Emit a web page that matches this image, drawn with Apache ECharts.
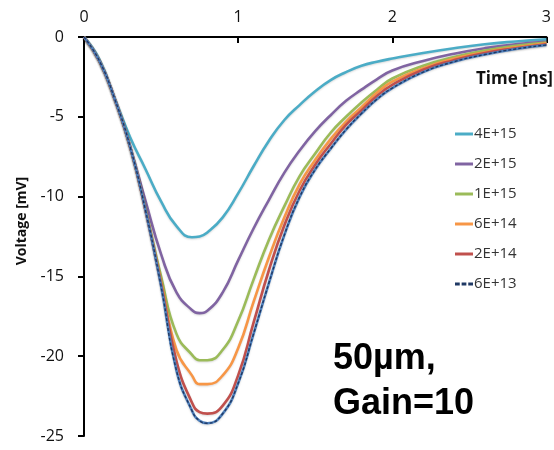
<!DOCTYPE html>
<html><head><meta charset="utf-8">
<script src="https://cdn.jsdelivr.net/npm/echarts@6/dist/echarts.min.js"></script>
<style>html,body{margin:0;padding:0;background:#fff}#c{width:554px;height:450px}</style>
</head><body><div id="c"></div>
<script>
const times = [0,0.1,0.2,0.3,0.4,0.5,0.6,0.7,0.75,0.8,0.9,1.0,1.1,1.2,1.3,1.4,1.5,1.6,1.7,1.8,1.9,2.0,2.2,2.4,2.6,2.8,3.0];
const names = ['4E+15','2E+15','1E+15','6E+14','2E+14','6E+13'];
const v4E15 = [0,-1.4,-3.85,-6.3,-8.3,-10.3,-11.85,-12.55,-12.5,-12.25,-11.3,-9.8,-8.1,-6.5,-5.2,-4.25,-3.4,-2.7,-2.2,-1.8,-1.55,-1.35,-1.0,-0.7,-0.45,-0.28,-0.15];
const v2E15 = [0,-1.5,-3.9,-6.9,-10.3,-13.6,-16.0,-17.1,-17.3,-17.15,-16.0,-14.0,-12.0,-10.2,-8.5,-7.1,-5.9,-4.9,-4.0,-3.3,-2.65,-2.1,-1.5,-1.05,-0.7,-0.45,-0.3];
const v1E15 = [0,-1.5,-3.9,-6.9,-10.8,-15.0,-18.6,-19.9,-20.25,-20.25,-19.6,-17.8,-15.2,-12.7,-10.6,-8.7,-7.3,-6.0,-5.0,-4.1,-3.3,-2.6,-1.8,-1.25,-0.85,-0.55,-0.35];
const v6E14 = [0,-1.5,-3.9,-6.9,-10.9,-15.3,-19.6,-21.2,-21.75,-21.75,-21.2,-19.5,-16.6,-13.8,-11.3,-9.2,-7.7,-6.4,-5.3,-4.4,-3.5,-2.8,-1.95,-1.35,-0.95,-0.65,-0.4];
const v2E14 = [0,-1.5,-3.9,-6.9,-10.9,-15.5,-20.3,-22.9,-23.5,-23.6,-23.1,-21.2,-17.9,-14.6,-11.8,-9.6,-8.0,-6.7,-5.5,-4.6,-3.7,-3.0,-2.05,-1.45,-1.0,-0.7,-0.45];
const v6E13 = [0,-1.5,-3.9,-6.9,-10.9,-15.6,-20.9,-23.4,-24.05,-24.2,-23.6,-21.7,-18.6,-15.4,-12.4,-10.0,-8.3,-7.0,-5.8,-4.8,-3.9,-3.2,-2.2,-1.55,-1.1,-0.75,-0.5];
const xTicks = [0,1,2,3];
const yTicks = [0,-5,-10,-15,-20,-25];
const allValues = [v4E15,v2E15,v1E15,v6E14,v2E14,v6E13];
const colors = ['#4BACC6','#8064A2','#9BBB59','#F79646','#C0504D','#4F81BD'];

const pair = v => times.map((t,i)=>[t,v[i]]);
const font = '"Open Sans"';
const series = allValues.map((v,i)=>({
  name: names[i], type:'line', data: pair(v), smooth:true,
  symbol:'none', color: colors[i],
  lineStyle:{width:2.6, color: colors[i], shadowColor:'rgba(0,0,0,0.15)', shadowBlur:2, shadowOffsetY:1},
  z: 2 + i
}));
series.push({
  name:'_6E13_dash', type:'line', data: pair(v6E13), smooth:true,
  symbol:'none', silent:true, color:'#1F3864',
  lineStyle:{width:1.4, color:'#1F3864', type:[3,2]}, z:9
});

const chart = echarts.init(document.getElementById('c'), null, {renderer:'canvas'});
chart.setOption({
  animation:false,
  backgroundColor:'#ffffff',
  grid:{left:84, top:37, width:470, height:399, containLabel:false},
  xAxis:{type:'value', position:'top', min:0, max:3, interval:1,
    axisLine:{onZero:false, lineStyle:{color:'#000', width:2}},
    axisTick:{inside:true, length:6, lineStyle:{color:'#000', width:2}},
    axisLabel:{fontFamily:font, fontSize:16, color:'#111', margin:12,
      formatter: v => xTicks.includes(v) ? String(v) : ''},
    splitLine:{show:false}},
  yAxis:{type:'value', min:-25, max:0, interval:5,
    axisLine:{show:true, lineStyle:{color:'#000', width:2}},
    axisTick:{show:true, length:6, lineStyle:{color:'#000', width:2}},
    axisLabel:{fontFamily:font, fontSize:16, color:'#111', margin:20,
      formatter: v => yTicks.includes(v) ? String(v) : ''},
    splitLine:{show:false}},
  legend:{orient:'vertical', left:450, top:120, itemWidth:18, itemHeight:3, itemGap:12,
    icon:'rect',
    textStyle:{fontFamily:font, fontSize:15, color:'#333', lineHeight:18, padding:[0,0,0,-4]},
    data: names.map((n,i)=> i===5 ? {name:n, icon:'path://M0,0h5v3h-5z M7,0h5v3h-5z M14,0h5v3h-5z', itemStyle:{color:'#1F3864'}} : {name:n})
  },
  graphic:[
    {type:'text', x:553, y:79, style:{text:'Time [ns]', font:'bold 17px "Open Sans"', fill:'#111', align:'right', verticalAlign:'middle'}},
    {type:'text', x:22, y:221, rotation:Math.PI/2, style:{text:'Voltage [mV]', font:'bold 14px "Open Sans"', fill:'#111', align:'center', verticalAlign:'middle'}},
    {type:'text', x:333, y:359, style:{text:'50µm,', font:'bold 36px "Liberation Sans"', fill:'#000', align:'left', verticalAlign:'middle'}},
    {type:'text', x:333, y:404, style:{text:'Gain=10', font:'bold 36px "Liberation Sans"', fill:'#000', align:'left', verticalAlign:'middle'}}
  ],
  series: series
});
</script></body></html>
